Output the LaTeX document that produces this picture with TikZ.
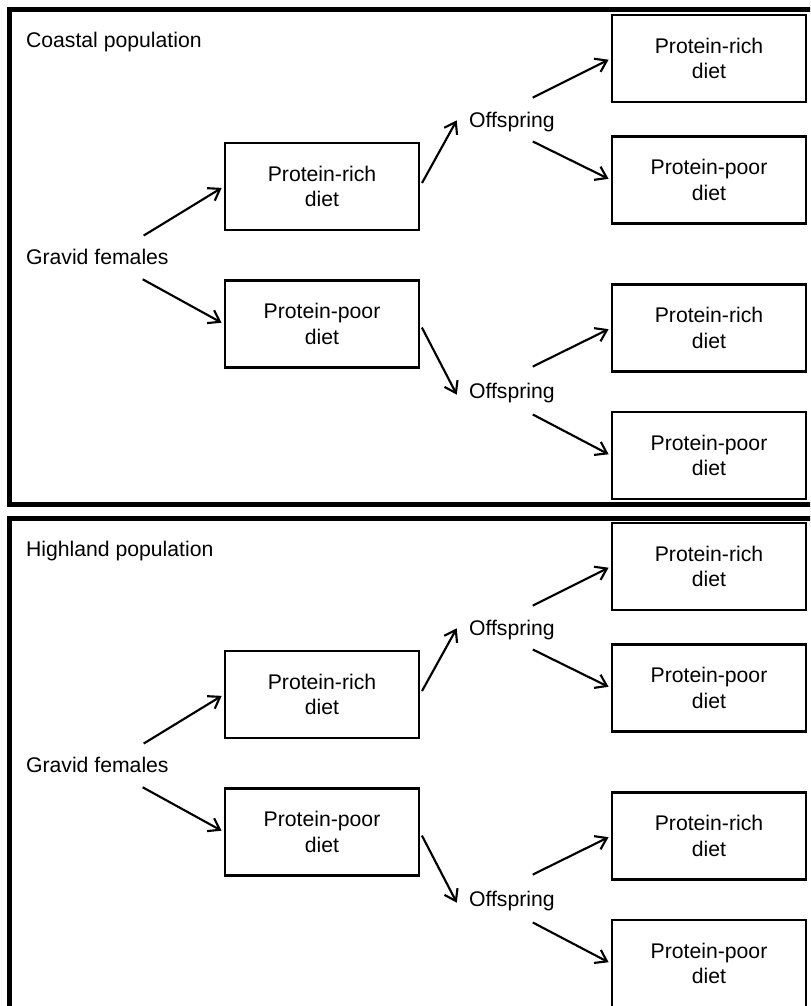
\documentclass[tikz,border=0pt]{standalone}
\usepackage{fontspec}
\setmainfont{Liberation Sans}
\usepackage{tikz}
\usetikzlibrary{arrows.meta}

\begin{document}
\begin{tikzpicture}[x=0.75pt,y=-0.75pt,line width=1.6pt,
  >={Straight Barb[length=8pt,width=11pt]},
  every node/.style={font=\fontsize{15.9}{19}\selectfont},
  box/.style={draw,line width=1.6pt,minimum width=145.5pt,minimum height=65.25pt,align=center},
  lab/.style={inner sep=0pt,anchor=base west},
  arr/.style={->,shorten >=2pt}]
\useasboundingbox (0,0) rectangle (810,1006);
\clip (0,0) rectangle (810,1006);

\foreach \dy/\pop in {0/Coastal population, 508/Highland population} {
\draw[line width=3.75pt] (9.5,10+\dy) rectangle (860,504.5+\dy);

\node[lab] (t) at (25,48+\dy) {\pop};
\node[lab] (g) at (25,264+\dy) {Gravid females};
\node[box] (a1) at (322,186.5+\dy) {Protein-rich\\diet};
\node[box] (a2) at (322,324+\dy) {Protein-poor\\diet};
\node[lab] (o1) at (468,127+\dy) {Offspring};
\node[lab] (o2) at (468,398+\dy) {Offspring};
\node[box] (b1) at (709,58.5+\dy) {Protein-rich\\diet};
\node[box] (b2) at (709,180+\dy) {Protein-poor\\diet};
\node[box] (b3) at (709,328+\dy) {Protein-rich\\diet};
\node[box] (b4) at (709,455.5+\dy) {Protein-poor\\diet};

\draw[arr] ([shift={(-26,-12)}]g.north east) to (a1.west);
\draw[arr] ([shift={(-27,14)}]g.south east) to (a2.west);
\draw[arr,shorten <=3pt] (a1.east) to ([shift={(-10,-3.5)}]o1.west);
\draw[arr,shorten <=3pt] (a2.east) to ([shift={(-10,4.5)}]o2.west);
\draw[arr] ([shift={(-23,-13)}]o1.north east) to (b1.west);
\draw[arr] ([shift={(-23,9)}]o1.south east) to (b2.west);
\draw[arr] ([shift={(-23,-15)}]o2.north east) to (b3.west);
\draw[arr] ([shift={(-23,11)}]o2.south east) to (b4.west);
}
\end{tikzpicture}
\end{document}
